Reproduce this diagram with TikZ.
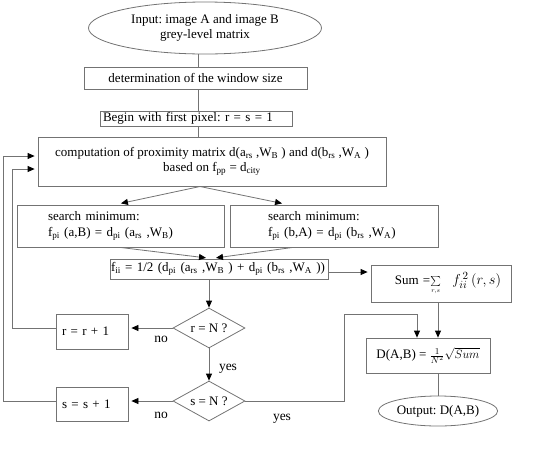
\documentclass[tikz,border=0pt]{standalone}
\usepackage{fontspec}
\setmainfont{Liberation Serif}
\usetikzlibrary{shapes.geometric,arrows.meta}
\definecolor{linec}{RGB}{115,115,115}
\frenchspacing
\tikzset{
  base/.style={draw=linec,line width=0.8pt,inner sep=2pt,font=\fontsize{13}{15.5}\selectfont},
  boxn/.style={base,rectangle,minimum width=#1,align=center},
  ell/.style={base,ellipse},
  dia/.style={base,diamond,minimum width=72pt,minimum height=40pt,inner sep=0pt,aspect=1.8},
  conn/.style={draw=linec,line width=0.8pt},
  arr/.style={conn,-{Triangle[length=7pt,width=6pt,color=black]},shorten >=3pt},
  lab/.style={font=\fontsize{13.5}{15}\selectfont,inner sep=0pt}
}
\begin{document}
\begin{tikzpicture}[x=1pt,y=-1pt]
\useasboundingbox (0,0) rectangle (547,456);
\node[ell,minimum width=233pt,minimum height=52pt,align=center] (in) at (205,28) {Input: image A and image B\\grey-level matrix};
\node[boxn=223pt,minimum height=22pt] (win) at (195.5,78) {determination of the window size};
\node[boxn=192pt,minimum height=15pt,inner sep=0pt,text width=186pt,align=left] (beg) at (196,118.5) {Begin with first pixel: r = s = 1};
\node[boxn=348pt,minimum height=49pt] (comp) at (212,161.5) {computation of proximity matrix d(a\textsubscript{rs} ,W\textsubscript{B} ) and d(b\textsubscript{rs} ,W\textsubscript{A} )\\based on f\textsubscript{pp} = d\textsubscript{city}};
\node[boxn=207pt,minimum height=42pt,text width=145pt,align=left] (sl) at (120.5,226) {search minimum:\\f\textsubscript{pi} (a,B) = d\textsubscript{pi} (a\textsubscript{rs} ,W\textsubscript{B})};
\node[boxn=208pt,minimum height=42pt,text width=132pt,align=left] (sr) at (334,226) {search minimum:\\f\textsubscript{pi} (b,A) = d\textsubscript{pi} (b\textsubscript{rs} ,W\textsubscript{A})};
\node[boxn=218pt,minimum height=20pt,inner sep=0pt,text width=216pt,align=left] (fii) at (219,269) {f\textsubscript{ii} = 1/2 (d\textsubscript{pi} (a\textsubscript{rs} ,W\textsubscript{B} ) + d\textsubscript{pi} (b\textsubscript{rs} ,W\textsubscript{A} ))};
\node[boxn=140pt,minimum height=37pt,inner sep=0pt,text width=120pt,align=right] (sum) at (441,283.5) {Sum =$\sum\limits_{\scriptscriptstyle r,s}$\;\; {\fontsize{15}{16}\selectfont$f_{ii}^{\,2}\,(r,s)$}};
\node[dia] (d1) at (209,328) {r = N ?};
\node[boxn=72pt,minimum height=35pt,text width=60pt,align=left] (rb) at (92,331.5) {r = r + 1};
\node[dia] (d2) at (209,401) {s = N ?};
\node[boxn=72pt,minimum height=34pt,text width=60pt,align=left] (sb) at (92,404) {s = s + 1};
\node[boxn=124pt,minimum height=35pt] (D) at (428,355.5) {D(A,B) = $\frac{1}{N^2}\sqrt{Sum}$};
\node[ell,minimum width=96pt,minimum height=30pt,inner sep=1pt] (out) at (438,411) {Output: D(A,B)};
% labels
\node[lab] (n1) at (161,339) {no};
\node[lab] (y1) at (228,369) {yes};
\node[lab] (n2) at (161,415) {no};
\node[lab] (y2) at (282,419) {yes};
% connectors
\draw[conn] (in.south -| 198,0) -- (win.north -| 198,0);
\draw[conn] (win.south -| 198,0) -- (beg.north -| 198,0);
\draw[conn] (beg.south -| 198,0) -- (comp.north -| 198,0);
\coordinate (cb) at (200,186.5);
\draw[arr] (cb) -- (118,204);
\draw[arr] (cb) -- (285,204);
\draw[arr,shorten >=1pt] (sl.south -| 120,0) -- (207,258);
\draw[arr,shorten >=1pt] (sr.south -| 293,0) -- (215,258);
\draw[arr] (fii.east |- 0,272) -- (sum.west |- 0,272);
\draw[arr,shorten >=0pt] (fii.south -| d1) -- (d1.north);
\draw[arr] (d1.west) -- (rb.east |- d1.west);
\draw[arr,shorten >=0pt] (d1.south) -- (d2.north);
\draw[arr] (d2.west) -- (sb.east |- d2.west);
\draw[conn] (rb.west |- d1.west) -- (12,328) -- (12,169);
\draw[arr] (12,169) -- (comp.west |- 0,169);
\draw[conn] (sb.west |- d2.west) -- (3,401) -- (3,156);
\draw[arr] (3,156) -- (comp.west |- 0,156);
\draw[conn] (d2.east) -- (344,401) -- (344,314) -- (417,314);
\draw[arr,shorten >=0pt] (417,314) -- (D.north -| 417,0);
\draw[arr,shorten >=0pt] (sum.south -| 438,0) -- (D.north -| 438,0);
\draw[conn] (D.south -| 438,0) -- (out.north);
\end{tikzpicture}
\end{document}
